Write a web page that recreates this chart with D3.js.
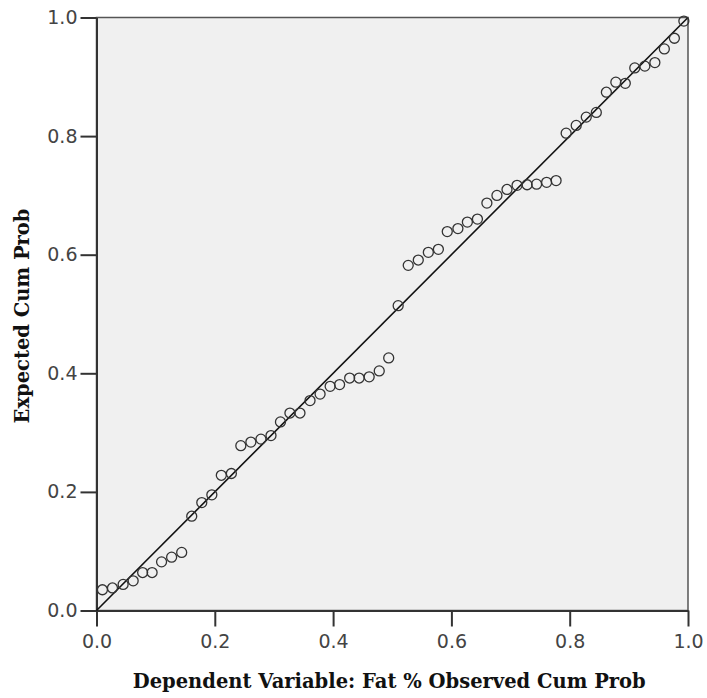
<!DOCTYPE html>
<html>
<head>
<meta charset="utf-8">
<script src="https://cdn.jsdelivr.net/npm/d3@7"></script>
<style>
  body { margin: 0; background: #fff; }
</style>
</head>
<body>
<div class="chart"></div>
<script>
// observed cum prob (x) and expected cum prob (y)
const observed = [0.010,0.027,0.045,0.062,0.078,0.094,0.110,0.127,0.144,0.161,
  0.178,0.195,0.211,0.228,0.244,0.261,0.278,0.295,0.311,0.327,
  0.344,0.361,0.378,0.395,0.411,0.428,0.444,0.461,0.478,0.494,
  0.510,0.527,0.544,0.561,0.578,0.593,0.611,0.627,0.644,0.660,
  0.677,0.694,0.711,0.728,0.744,0.761,0.777,0.794,0.811,0.828,
  0.845,0.862,0.878,0.894,0.910,0.927,0.944,0.960,0.977,0.993];
const expected = [0.035,0.038,0.044,0.050,0.064,0.064,0.082,0.090,0.098,0.159,
  0.182,0.195,0.228,0.231,0.278,0.284,0.289,0.295,0.318,0.333,
  0.333,0.354,0.365,0.378,0.381,0.392,0.392,0.394,0.404,0.426,
  0.514,0.582,0.591,0.604,0.609,0.639,0.644,0.655,0.660,0.687,
  0.700,0.710,0.717,0.718,0.719,0.722,0.725,0.805,0.818,0.832,
  0.840,0.874,0.891,0.889,0.915,0.918,0.924,0.947,0.965,0.994];
const ticks = [0, 0.2, 0.4, 0.6, 0.8, 1.0];
const xTitle = 'Dependent Variable: Fat % Observed Cum Prob';
const yTitle = 'Expected Cum Prob';

const data = observed.map((d,i)=>({x:d, y:expected[i]}));

const W = 707, H = 698;
const margin = ({top: 17.5, right: 19, bottom: 87.5, left: 96.5});
const width = W - margin.left - margin.right,
    height = H - margin.top - margin.bottom;

const svg = d3.select('.chart').append('svg')
    .attr('width', W)
    .attr('height', H)
    .append('g')
    .attr('transform', `translate(${margin.left},${margin.top})`);

const xScale = d3.scaleLinear().domain([0,1]).range([0, width]);
const yScale = d3.scaleLinear().domain([0,1]).range([height, 0]);

svg.append('rect')
    .attr('width', width)
    .attr('height', height)
    .attr('fill', '#f0f0f0')
    .attr('stroke', '#555')
    .attr('stroke-width', 1.5);

const xAxis = d3.axisBottom(xScale).tickValues(ticks).tickFormat(d3.format('.1f'))
    .tickSize(16).tickSizeOuter(0).tickPadding(8);
const yAxis = d3.axisLeft(yScale).tickValues(ticks).tickFormat(d3.format('.1f'))
    .tickSize(16).tickSizeOuter(0).tickPadding(3);

const gx = svg.append('g')
    .attr('class','axis x-axis')
    .attr('transform', `translate(0, ${height})`)
    .call(xAxis);
const gy = svg.append('g')
    .attr('class','axis y-axis')
    .call(yAxis);

[gx, gy].forEach(g=>{
    g.select('.domain').attr('stroke', '#333').attr('stroke-width', 2);
    g.selectAll('.tick line').attr('stroke', '#333').attr('stroke-width', 2);
    g.selectAll('.tick text')
        .attr('fill', '#444')
        .attr('font-family', 'DejaVu Sans')
        .attr('font-size', 19);
});

// reference diagonal
svg.append('line')
    .attr('x1', xScale(0)).attr('y1', yScale(0))
    .attr('x2', xScale(1)).attr('y2', yScale(1))
    .attr('stroke', '#111')
    .attr('stroke-width', 1.6);

svg.selectAll('circle')
    .data(data)
    .enter()
    .append('circle')
    .attr('cx', d=>xScale(d.x))
    .attr('cy', d=>yScale(d.y))
    .attr('r', 5)
    .attr('fill', 'none')
    .attr('stroke', '#333')
    .attr('stroke-width', 1.3);

svg.append('text')
    .text(xTitle)
    .attr('x', width/2 - 3)
    .attr('y', height + 77)
    .attr('text-anchor', 'middle')
    .attr('font-family', 'DejaVu Serif')
    .attr('font-weight', 'bold')
    .attr('font-size', 19.5)
    .attr('fill', '#111');

svg.append('text')
    .text(yTitle)
    .attr('transform', `translate(${-68},${height/2 + 2}) rotate(-90)`)
    .attr('text-anchor', 'middle')
    .attr('font-family', 'DejaVu Serif')
    .attr('font-weight', 'bold')
    .attr('font-size', 19.5)
    .attr('fill', '#111');
</script>
</body>
</html>
